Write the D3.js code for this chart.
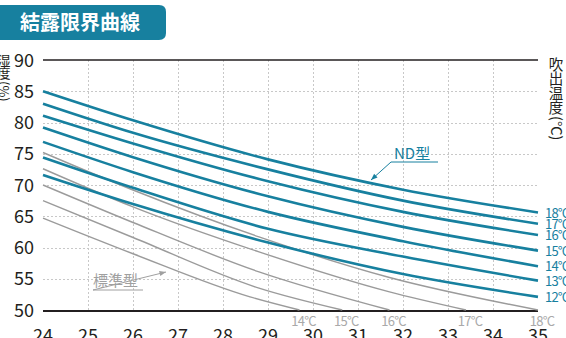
<!DOCTYPE html>
<html>
<head>
<meta charset="utf-8">
<script src="https://cdn.jsdelivr.net/npm/d3@7/dist/d3.min.js"></script>
<style>
  html, body { margin: 0; padding: 0; background: #fff; }
  svg { display: block; }
  text { font-family: "Noto Sans CJK JP", "Noto Sans", sans-serif; }
</style>
</head>
<body>
<svg id="chart" width="566" height="338"></svg>
<script>
// Axis ticks
const xTicks = [24, 25, 26, 27, 28, 29, 30, 31, 32, 33, 34, 35];
const yTicks = [50, 55, 60, 65, 70, 75, 80, 85, 90];

// ND型: outlet temperature vs. limit humidity, sampled at room temperatures
const ndTemps = ["18°C", "17°C", "16°C", "15°C", "14°C", "13°C", "12°C"];
const ndRoomTemp = [24, 26, 29, 32, 35];
const ndHumidity = [
  [85.0, 80.35, 74.1, 69.25, 65.6],
  [83.0, 78.35, 72.5, 67.5, 63.8],
  [81.1, 76.65, 70.6, 65.7, 62.0],
  [79.2, 74.45, 68.2, 63.3, 59.5],
  [76.9, 72.05, 65.7, 61.0, 57.0],
  [74.4, 69.55, 63.0, 58.55, 54.7],
  [71.6, 66.95, 60.8, 55.75, 52.1]
];

// 標準型: each curve as [room temperature, humidity] until it reaches 50%
const stdTemps = ["18°C", "17°C", "16°C", "15°C", "14°C"];
const stdCurves = [
  [[24, 75.2], [26, 69.2], [28.8, 61.7], [31.7, 55.2], [35, 50]],
  [[24, 72.6], [26, 66.5], [28.8, 59.3], [31.7, 52.9], [33.4, 50]],
  [[24, 70.0], [26, 64.0], [28.8, 56.1], [31.7, 50]],
  [[24, 67.5], [26, 61.6], [28.8, 53.5], [30.65, 50]],
  [[24, 64.7], [26, 59.0], [28.6, 52.1], [29.7, 50]]
];

const teal = "#17809f";
const gray = "#9b9b9b";
const dark = "#231f20";

const svg = d3.select("#chart");
const x = d3.scaleLinear().domain([24, 35]).range([43, 538]);
const y = d3.scaleLinear().domain([50, 90]).range([310, 60]);

// Title badge
svg.append("path")
  .attr("d", "M-10,5 H159 Q166,5 166,12 V33 Q166,40 159,40 H-10 Z")
  .attr("fill", teal);
svg.append("text")
  .attr("x", 80).attr("y", 30)
  .attr("text-anchor", "middle")
  .attr("fill", "#fff")
  .attr("font-size", 20).attr("font-weight", 700)
  .text("結露限界曲線");

// Grid
const grid = svg.append("g")
  .attr("stroke", "#c8c8c8").attr("stroke-width", 1)
  .attr("stroke-dasharray", "2,2");
grid.selectAll("line.v").data(xTicks.slice(1, -1)).join("line")
  .attr("x1", d => Math.round(x(d)) + 0.5).attr("x2", d => Math.round(x(d)) + 0.5)
  .attr("y1", y(90)).attr("y2", y(50));
grid.selectAll("line.h").data(yTicks.slice(1, -1)).join("line")
  .attr("x1", x(24)).attr("x2", x(35))
  .attr("y1", d => Math.round(y(d)) + 0.5).attr("y2", d => Math.round(y(d)) + 0.5);

// Frame lines at 90% and 50%
svg.append("line").attr("x1", x(24)).attr("x2", x(35))
  .attr("y1", y(90)).attr("y2", y(90))
  .attr("stroke", dark).attr("stroke-width", 1.5);
svg.append("line").attr("x1", x(24)).attr("x2", x(35))
  .attr("y1", y(50) + 1).attr("y2", y(50) + 1)
  .attr("stroke", dark).attr("stroke-width", 2);

const line = d3.line()
  .x(d => x(d[0])).y(d => y(d[1]))
  .curve(d3.curveMonotoneX);

// 標準型 curves
svg.append("g").selectAll("path").data(stdCurves).join("path")
  .attr("d", line)
  .attr("fill", "none").attr("stroke", gray).attr("stroke-width", 1.4);

// ND型 curves
const ndData = ndHumidity.map(row => row.map((h, i) => [ndRoomTemp[i], h]));
svg.append("g").selectAll("path").data(ndData).join("path")
  .attr("d", line)
  .attr("fill", "none").attr("stroke", teal).attr("stroke-width", 2.6);

// Outlet temperature labels for ND型
svg.append("g").selectAll("text").data(ndData).join("text")
  .attr("x", x(35) + 7)
  .attr("y", d => y(d[d.length - 1][1]) + 5)
  .attr("fill", teal).attr("font-size", 13)
  .attr("letter-spacing", -0.8)
  .text((d, i) => ndTemps[i]);

// Outlet temperature labels for 標準型, at the 50% crossings
svg.append("g").selectAll("text").data(stdCurves).join("text")
  .attr("x", d => x(d[d.length - 1][0]) + 4)
  .attr("y", y(50) + 16)
  .attr("text-anchor", "middle")
  .attr("fill", "#a9a9a9").attr("font-size", 13)
  .attr("letter-spacing", -0.8)
  .text((d, i) => stdTemps[i]);

// Axis tick labels
svg.append("g").selectAll("text").data(yTicks).join("text")
  .attr("x", 34).attr("y", d => y(d) + 6.5)
  .attr("text-anchor", "end")
  .attr("fill", dark).attr("font-size", 18)
  .attr("font-family", "'Noto Sans', sans-serif")
  .text(d => d);
svg.append("g").selectAll("text").data(xTicks).join("text")
  .attr("x", d => x(d)).attr("y", 342)
  .attr("text-anchor", "middle")
  .attr("fill", dark).attr("font-size", 18)
  .attr("font-family", "'Noto Sans', sans-serif")
  .text(d => d);

// Vertical axis titles: upright kanji stacked, bracketed unit turned sideways
function verticalTitle(cx, top, size, chars, unit) {
  const g = svg.append("g").attr("fill", dark).attr("font-size", size);
  chars.forEach((c, i) => {
    g.append("text")
      .attr("x", cx).attr("y", top + size * (i + 1) - size * 0.12)
      .attr("text-anchor", "middle")
      .text(c);
  });
  const uy = top + size * chars.length + 1;
  g.append("text")
    .attr("transform", `translate(${cx},${uy}) rotate(90)`)
    .attr("dy", "0.35em")
    .text(unit);
}
verticalTitle(4, 54, 13, ["湿", "度"], "(%)");
verticalTitle(556, 57, 14.5, ["吹", "出", "温", "度"], "(°C)");

// Series callouts
function callout(label, color, tx, ty, ux1, ux2, uy, ax, ay) {
  const g = svg.append("g");
  g.append("text").attr("x", tx).attr("y", ty)
    .attr("fill", color).attr("font-size", 15).text(label);
  g.append("polyline")
    .attr("points", `${ux2},${uy} ${ux1},${uy} ${ax},${ay}`)
    .attr("fill", "none").attr("stroke", color).attr("stroke-width", 1);
  const ang = Math.atan2(ay - uy, ax - ux1);
  const len = 7, spread = 0.38;
  const p1 = [ax - len * Math.cos(ang - spread), ay - len * Math.sin(ang - spread)];
  const p2 = [ax - len * Math.cos(ang + spread), ay - len * Math.sin(ang + spread)];
  g.append("path")
    .attr("d", `M${ax},${ay} L${p1[0]},${p1[1]} L${p2[0]},${p2[1]} Z`)
    .attr("fill", color);
}
callout("ND型", teal, 394, 159, 391, 438, 162, 371, 180);
callout("標準型", "#a0a0a0", 93, 286, 93, 143, 290, 166, 272);
</script>
</body>
</html>
